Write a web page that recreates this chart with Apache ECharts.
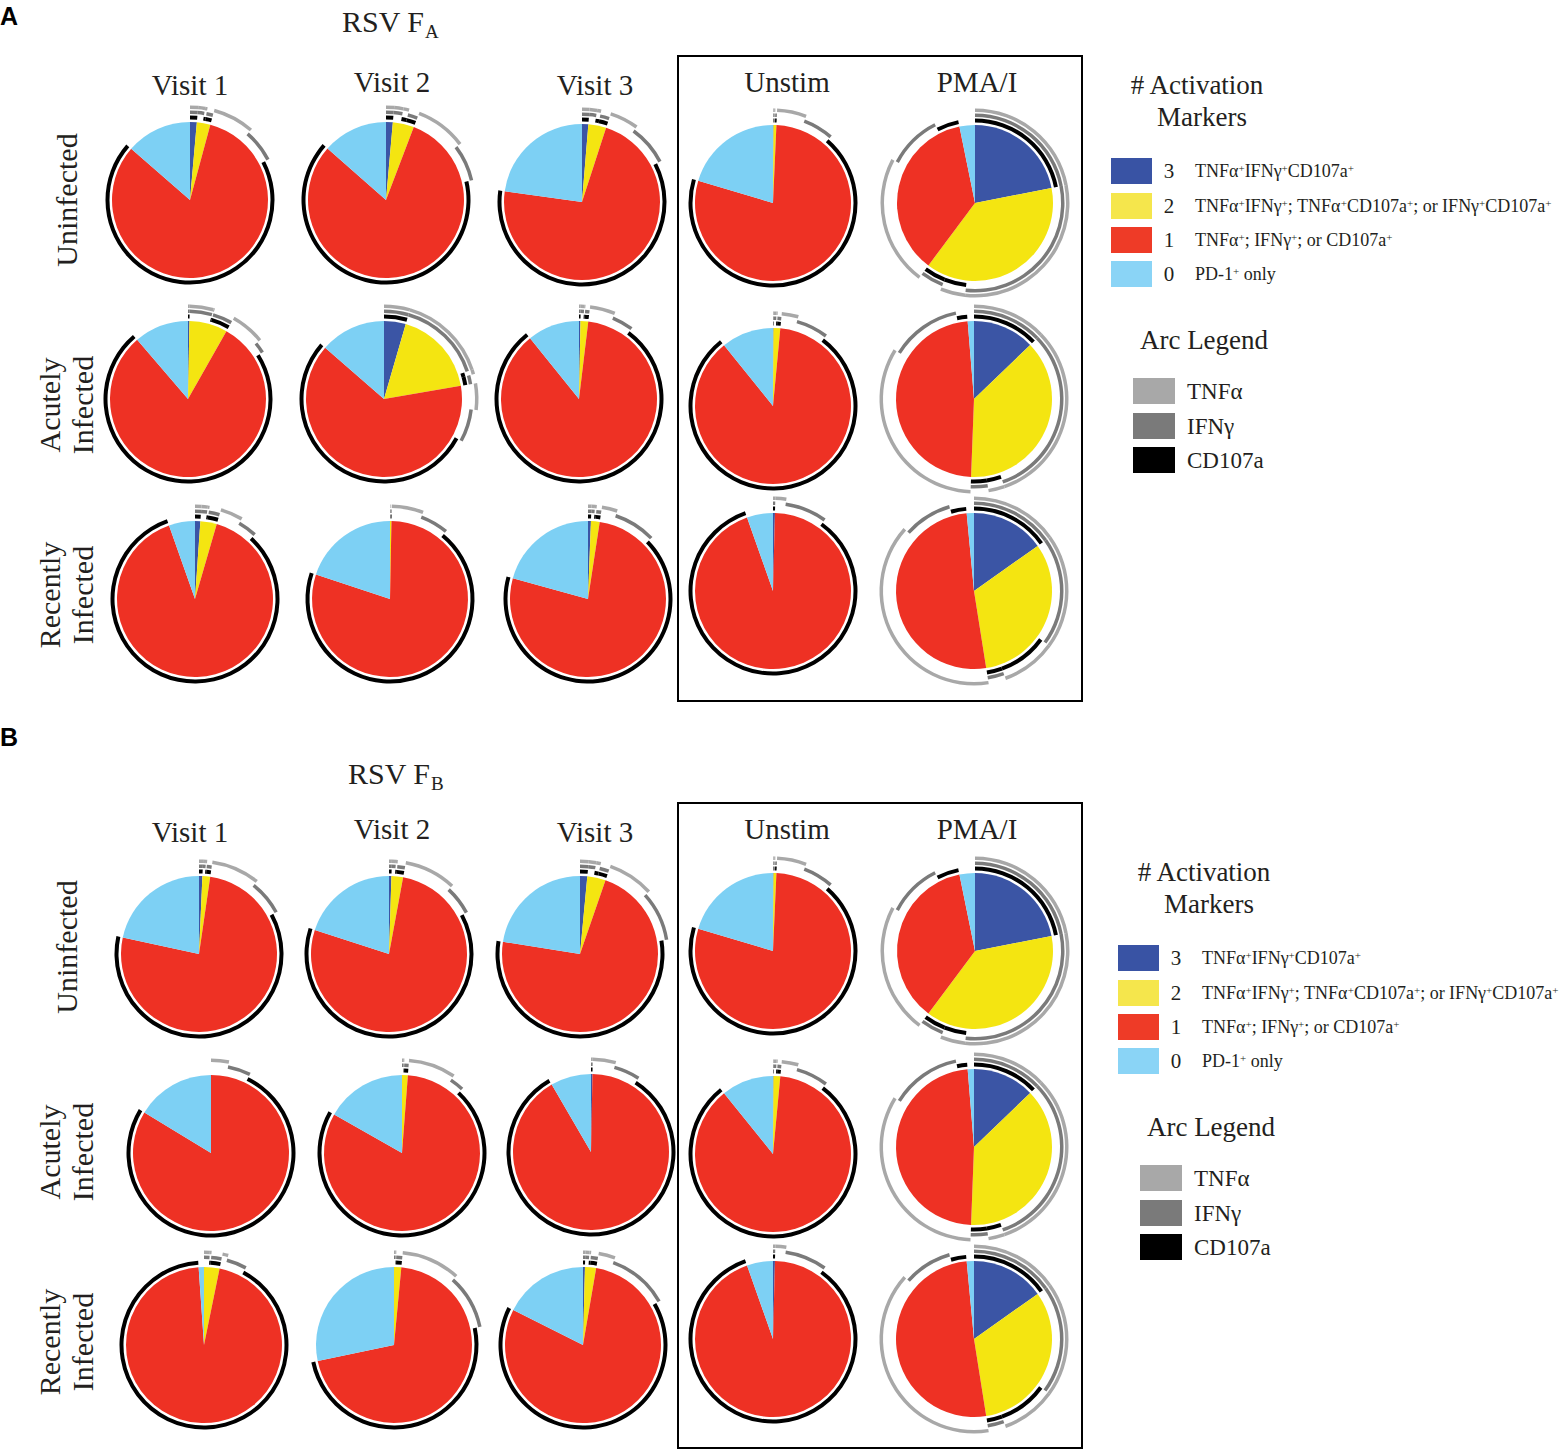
<!DOCTYPE html>
<html><head><meta charset="utf-8">
<script src="https://cdn.jsdelivr.net/npm/echarts@6/dist/echarts.min.js"></script>
<style>html,body{margin:0;padding:0;background:#fff}#c{width:1568px;height:1450px}</style>
</head><body><div id="c"></div>
<script>
// ---------------- DATA ----------------
// Percent of cells in each Boolean subset, in clockwise order from 12 o'clock:
// [TNFα+IFNγ+CD107a+, TNFα+IFNγ+, TNFα+CD107a+, IFNγ+CD107a+, TNFα+, IFNγ+, CD107a+, PD-1+ only]
const subsets = ['TNFα+IFNγ+CD107a+','TNFα+IFNγ+','TNFα+CD107a+','IFNγ+CD107a+','TNFα+','IFNγ+','CD107a+','PD-1+ only'];
const conditions = ['Visit 1','Visit 2','Visit 3','Unstim','PMA/I'];
const groups = ['Uninfected','Acutely\nInfected','Recently\nInfected'];

// RSV F_A  (one entry per condition: Visit 1, Visit 2, Visit 3, Unstim, PMA/I)
const FA_uninfected = [
  [1.4, 1.2, 0.4, 1.2, 7.2, 6.0, 69.0, 13.6],
  [1.4, 1.6, 1.0, 1.8, 8.9, 6.7, 65.1, 13.5],
  [1.3, 1.3, 0.7, 1.7, 5.0, 7.4, 59.8, 22.8],
  [0.1, 0.2, 0.1, 0.3, 5.1, 5.6, 68.2, 20.4],
  [21.9, 29.8, 4.3, 4.2, 22.5, 9.8, 4.3, 3.2]
];
const FA_acute = [
  [0.3, 4.1, 0.2, 3.6, 5.9, 2.0, 72.6, 11.3],
  [4.5, 15.4, 0.8, 1.6, 4.6, 6.0, 53.5, 13.6],
  [0.3, 0.6, 0.2, 0.8, 4.4, 3.9, 79.0, 10.8],
  [0.1, 0.5, 0.2, 0.7, 2.9, 5.9, 78.9, 10.8],
  [12.8, 31.9, 2.8, 3.1, 33.2, 12.9, 2.0, 1.3]
];
const FA_recent = [
  [1.1, 1.1, 0.3, 2.0, 3.9, 3.5, 82.7, 5.4],
  [0.0, 0.1, 0.0, 0.2, 5.5, 5.2, 69.1, 19.9],
  [0.6, 0.6, 0.3, 0.9, 2.7, 7.7, 66.5, 20.7],
  [0.4, 0.0, 0.0, 0.0, 1.9, 7.7, 84.6, 5.4],
  [15.2, 19.8, 9.5, 3.0, 39.1, 8.9, 3.0, 1.5]
];
// RSV F_B
const FB_uninfected = [
  [0.7, 0.5, 0.2, 0.9, 8.4, 6.4, 61.3, 21.6],
  [0.5, 0.7, 0.3, 1.4, 9.0, 5.3, 62.8, 20.0],
  [1.5, 1.3, 0.8, 1.7, 8.0, 9.1, 55.1, 22.5],
  [0.1, 0.2, 0.1, 0.3, 5.1, 5.6, 68.2, 20.4],
  [21.9, 29.8, 4.3, 4.2, 22.5, 9.8, 4.3, 3.2]
];
const FB_acute = [
  [0.0, 0.0, 0.0, 0.0, 3.1, 4.2, 76.4, 16.3],
  [0.0, 0.3, 0.1, 0.8, 8.2, 2.6, 71.2, 16.8],
  [0.3, 0.0, 0.0, 0.0, 4.0, 4.8, 82.5, 8.4],
  [0.1, 0.5, 0.2, 0.7, 2.9, 5.9, 78.9, 10.8],
  [12.8, 31.9, 2.8, 3.1, 33.2, 12.9, 2.0, 1.3]
];
const FB_recent = [
  [0.0, 1.0, 0.3, 1.9, 1.0, 3.7, 91.0, 1.1],
  [0.0, 0.3, 0.1, 1.1, 10.2, 10.0, 50.0, 28.3],
  [0.4, 0.7, 0.3, 1.3, 2.9, 11.1, 65.7, 17.6],
  [0.4, 0.0, 0.0, 0.0, 1.9, 7.7, 84.6, 5.4],
  [15.2, 19.8, 9.5, 3.0, 39.1, 8.9, 3.0, 1.5]
];

// number of activation markers for each subset, and marker positivity
const markerCount = [3, 2, 2, 2, 1, 1, 1, 0];
const tnfPos   = [1, 1, 1, 0, 1, 0, 0, 0];
const ifnPos   = [1, 1, 0, 1, 0, 1, 0, 0];
const cd107Pos = [1, 0, 1, 1, 0, 0, 1, 0];

const markerLegend = [
  {n: '3', t: 'TNFα{s|+}IFNγ{s|+}CD107a{s|+}'},
  {n: '2', t: 'TNFα{s|+}IFNγ{s|+}; TNFα{s|+}CD107a{s|+}; or IFNγ{s|+}CD107a{s|+}'},
  {n: '1', t: 'TNFα{s|+}; IFNγ{s|+}; or CD107a{s|+}'},
  {n: '0', t: 'PD-1{s|+} only'}
];
const arcLegend = ['TNFα', 'IFNγ', 'CD107a'];

// ---------------- STYLE / LAYOUT ----------------
const sliceColors = ['#3B55A5', '#F4E511', '#EE3124', '#7DD0F4']; // 3,2,1,0 markers
const legendColors = ['#3953A4', '#F5E64C', '#EE3B27', '#8AD4F6'];
const arcColors = ['#A8A8A8', '#7A7A7A', '#000000'];
const SERIF = '"Liberation Serif", "DejaVu Serif", serif';
const TXT = '#231F20';
const R = 78;
const rings = [
  {mask: cd107Pos, color: arcColors[2], radius: [80.5, 84.5]},
  {mask: ifnPos,   color: arcColors[1], radius: [86, 89.5]},
  {mask: tnfPos,   color: arcColors[0], radius: [91, 94.5]}
];
const panels = [
  {rows: [FA_uninfected, FA_acute, FA_recent],
   centers: [
     [[190,200],[386,200],[582,202],[773,203],[975,203]],
     [[188,399],[384,399],[579,399],[773,406],[974,399]],
     [[195,599],[390,599],[588,599],[773,591],[974,591]]],
   dy: 0, lx: 0, ly: 0, letterY: 16, sub: 'A', titleX: 342, titleY: 21},
  {rows: [FB_uninfected, FB_acute, FB_recent],
   centers: [
     [[199,954],[389,954],[580,954],[773,951],[975,951]],
     [[211,1153],[402,1153],[591,1152],[773,1154],[974,1147]],
     [[204,1345],[394,1345],[583,1345],[773,1339],[974,1339]]],
   dy: 747, lx: 7, ly: 787, letterY: 737, sub: 'B', titleX: 348, titleY: 773}
];
const headerX = [190, 392, 595, 787, 977];
const headerY = [85, 82, 85, 82, 82];
const rowLabelY = [200, 405, 595];

// ---------------- BUILD ----------------
const series = [];
const common = {type: 'pie', startAngle: 90, clockwise: true, silent: true, animation: false,
  minAngle: 0, avoidLabelOverlap: false, label: {show: false}, labelLine: {show: false},
  emphasis: {disabled: true}, itemStyle: {borderWidth: 0}};

function addPie(vals, center) {
  const grp = [0, 0, 0, 0];
  vals.forEach((v, i) => { grp[3 - markerCount[i]] += v; });
  series.push(Object.assign({}, common, {
    center: center, radius: [0, R],
    data: grp.map((v, k) => ({value: v, name: (3 - k) + ' markers', itemStyle: {color: sliceColors[k]}}))
  }));
  rings.forEach(rg => {
    series.push(Object.assign({}, common, {
      center: center, radius: rg.radius,
      data: vals.map((v, i) => ({value: v, name: subsets[i],
        itemStyle: {color: rg.mask[i] ? rg.color : 'rgba(0,0,0,0)'}}))
    }));
  });
}

const graphic = [];
function txt(x, y, text, size, opts) {
  graphic.push(Object.assign({type: 'text', x: x, y: y, silent: true,
    style: Object.assign({text: text, font: size + 'px ' + SERIF, fill: TXT,
      textAlign: 'center', textVerticalAlign: 'middle'}, (opts && opts.style) || {})},
    (opts && opts.el) || {}));
}

panels.forEach(p => {
  p.rows.forEach((row, r) => row.forEach((vals, c) => addPie(vals, p.centers[r][c])));
  const dy = p.dy;
  // panel letter
  graphic.push({type: 'text', x: 0, y: p.letterY, silent: true,
    style: {text: p.sub, font: 'bold 25px "Liberation Sans", Arial, sans-serif', fill: '#000',
      textAlign: 'left', textVerticalAlign: 'middle'}});
  // title RSV F_x
  txt(p.titleX, p.titleY, 'RSV F', 30, {style: {textAlign: 'left'}});
  txt(p.titleX + 83, p.titleY + 10, p.sub, 19, {style: {textAlign: 'left'}});
  // headers
  conditions.forEach((h, i) => txt(headerX[i], headerY[i] + dy, h, 29));
  // row labels
  groups.forEach((g, i) => txt(66, rowLabelY[i] + dy, g, 30,
    {style: {lineHeight: 33}, el: {rotation: Math.PI / 2}}));
  // box
  graphic.push({type: 'rect', silent: true, shape: {x: 678, y: 56 + dy, width: 404, height: 645},
    style: {fill: 'none', stroke: '#000', lineWidth: 2}});
  // legend
  const lx = p.lx, ly = p.ly;
  txt(1197 + lx, 85 + ly, '# Activation', 27);
  txt(1202 + lx, 117 + ly, 'Markers', 27);
  const swY = [158, 193, 227, 261];
  markerLegend.forEach((m, k) => {
    graphic.push({type: 'rect', silent: true, shape: {x: 1111 + lx, y: swY[k] + ly, width: 41, height: 26},
      style: {fill: legendColors[k]}});
    txt(1169 + lx, swY[k] + 13 + ly, m.n, 21);
    txt(1195 + lx, swY[k] + 13 + ly, m.t, 18, {style: {textAlign: 'left',
      rich: {s: {fontSize: 11, fontFamily: SERIF, verticalAlign: 'top', fill: TXT}}}});
  });
  txt(1204 + lx, 340 + ly, 'Arc Legend', 27);
  const aY = [378, 413, 447];
  arcLegend.forEach((a, k) => {
    graphic.push({type: 'rect', silent: true, shape: {x: 1133 + lx, y: aY[k] + ly, width: 42, height: 26},
      style: {fill: arcColors[k]}});
    txt(1187 + lx, aY[k] + 13 + ly, a, 23, {style: {textAlign: 'left'}});
  });
});

const chart = echarts.init(document.getElementById('c'), null, {renderer: 'svg', width: 1568, height: 1450});
chart.setOption({animation: false, backgroundColor: '#fff', series: series, graphic: graphic});
</script></body></html>
